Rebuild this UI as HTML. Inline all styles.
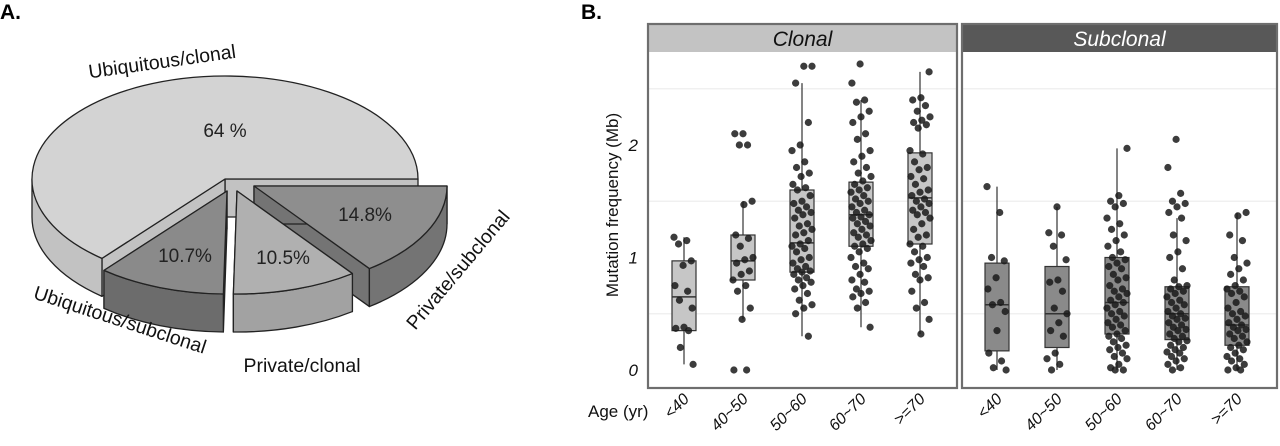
<!DOCTYPE html>
<html><head><meta charset="utf-8">
<style>
body{margin:0;background:#fff;width:1280px;height:441px;overflow:hidden;font-family:"Liberation Sans",sans-serif}
svg text{font-family:"Liberation Sans",sans-serif}
</style></head>
<body>
<svg id="fig" width="1280" height="441" viewBox="0 0 1280 441" xmlns="http://www.w3.org/2000/svg">
  <text x="0" y="19" font-size="21" font-weight="bold">A.</text>
  <text x="581" y="19" font-size="21" font-weight="bold">B.</text>
  <g id="pie"></g>
  <g id="box"></g>
</svg>
<script>
// ---------- Pie data ----------
const pieLabels = ["Ubiquitous/clonal","Ubiquitous/subclonal","Private/clonal","Private/subclonal"];
const pieValues = [64, 10.7, 10.5, 14.8];
const piePctText = ["64 %","10.7%","10.5%","14.8%"];

// ---------- Box plot data ----------
const ageGroups = ["<40","40~50","50~60","60~70",">=70"];
const yTicks = [0,1,2];
const clonalStats = [ // [lowWhisker,q1,median,q3,highWhisker]
 [0.05,0.35,0.65,0.97,1.18],[0.45,0.80,0.97,1.20,1.50],[0.30,0.87,1.13,1.60,2.55],[0.38,1.10,1.38,1.67,2.40],[0.32,1.12,1.53,1.93,2.65]];
const subclonalStats = [
 [0.0,0.17,0.58,0.95,1.63],[0.0,0.20,0.50,0.92,1.45],[0.0,0.32,0.60,1.00,1.97],[0.0,0.27,0.50,0.74,1.35],[0.0,0.22,0.40,0.74,1.40]];
const clonalPoints = [
 [1.18,1.15,1.12,0.97,0.93,0.75,0.70,0.62,0.55,0.38,0.37,0.35,0.20,0.05],
 [2.10,2.10,2.00,2.00,1.50,1.47,1.20,1.17,1.10,1.00,0.98,0.95,0.88,0.85,0.80,0.75,0.70,0.55,0.45,0.00,0.00],
 [2.70,2.70,2.55,2.20,2.00,1.95,1.85,1.80,1.75,1.72,1.65,1.62,1.60,1.55,1.50,1.48,1.45,1.42,1.40,1.38,1.35,1.30,1.28,1.25,1.22,1.20,1.15,1.12,1.10,1.08,1.05,1.00,0.98,0.95,0.92,0.90,0.88,0.87,0.85,0.82,0.80,0.78,0.75,0.72,0.68,0.62,0.58,0.55,0.50,0.30],
 [2.72,2.55,2.40,2.38,2.30,2.25,2.20,2.10,2.05,1.95,1.90,1.85,1.80,1.75,1.72,1.68,1.65,1.62,1.60,1.58,1.55,1.52,1.50,1.48,1.45,1.42,1.40,1.38,1.36,1.35,1.32,1.30,1.28,1.25,1.22,1.20,1.18,1.15,1.12,1.10,1.08,1.05,1.00,0.95,0.92,0.90,0.85,0.80,0.78,0.72,0.70,0.68,0.65,0.60,0.55,0.38],
 [2.65,2.42,2.40,2.35,2.30,2.25,2.22,2.20,2.18,2.15,1.95,1.92,1.85,1.80,1.78,1.72,1.70,1.65,1.60,1.58,1.55,1.52,1.50,1.48,1.45,1.42,1.40,1.38,1.35,1.30,1.25,1.20,1.18,1.12,1.10,1.05,1.00,0.98,0.95,0.92,0.85,0.82,0.80,0.70,0.60,0.55,0.45,0.32]
];
const subclonalPoints = [
 [1.63,1.40,1.00,0.97,0.82,0.72,0.60,0.58,0.52,0.35,0.15,0.08,0.02,0.00],
 [1.45,1.22,1.20,1.10,0.98,0.80,0.78,0.70,0.55,0.50,0.42,0.35,0.30,0.15,0.10,0.05,0.00],
 [1.97,1.55,1.50,1.48,1.45,1.35,1.30,1.25,1.20,1.15,1.10,1.05,1.00,0.98,0.95,0.92,0.90,0.85,0.82,0.80,0.75,0.72,0.70,0.68,0.65,0.62,0.60,0.58,0.55,0.52,0.50,0.48,0.45,0.42,0.40,0.38,0.35,0.32,0.30,0.28,0.25,0.22,0.20,0.18,0.15,0.12,0.10,0.05,0.02,0.00,0.00],
 [2.05,1.80,1.57,1.50,1.48,1.45,1.40,1.35,1.20,1.15,1.05,1.00,0.90,0.80,0.75,0.74,0.72,0.70,0.68,0.65,0.62,0.60,0.58,0.55,0.52,0.50,0.48,0.46,0.45,0.42,0.40,0.38,0.36,0.35,0.32,0.30,0.28,0.26,0.25,0.22,0.20,0.18,0.16,0.15,0.12,0.10,0.08,0.05,0.02,0.00],
 [1.40,1.37,1.20,1.15,1.00,0.95,0.90,0.85,0.80,0.75,0.72,0.70,0.68,0.65,0.60,0.55,0.52,0.50,0.48,0.45,0.42,0.40,0.38,0.36,0.35,0.32,0.30,0.28,0.25,0.22,0.20,0.18,0.15,0.12,0.10,0.08,0.05,0.02,0.00,0.00]
];

const NS="http://www.w3.org/2000/svg";
function mk(parent,tag,attrs){const e=document.createElementNS(NS,tag);for(const k in attrs)e.setAttribute(k,attrs[k]);parent.appendChild(e);return e;}

// ---------- Pie ----------
(function(){
 const g=document.getElementById('pie');
 const cx=225,cy=179,rx=193,ry=103,depth=38;
 const tops=["#d3d3d3","#8a8a8a","#b0b0b0","#8e8e8e"];
 const sides=["#c2c2c2","#6c6c6c","#a2a2a2","#747474"];
 const explode=[[0,0],[2,12],[12,12],[29,7]];
 const total=pieValues.reduce((a,b)=>a+b,0);
 const P=(a,ox,oy,d)=>[cx+ox+rx*Math.cos(a*Math.PI/180),cy+oy-ry*Math.sin(a*Math.PI/180)+d];
 const labelPos=[[225,137],[185,262],[283,264],[365,221]];
 const angles=[];let a0=0;
 pieValues.forEach(v=>{angles.push([a0,a0+v/total*360]);a0+=v/total*360;});
 const order=[0,3,1,2];
 order.forEach(i=>{
  const [a1,a2]=angles[i];
  const [ox,oy]=explode[i];
  const sg=mk(g,'g',{});
  
  
  const st={stroke:'#222','stroke-width':1.3,'stroke-linejoin':'round'};
  const C=[cx+ox,cy+oy];
  [a1,a2].forEach(a=>{const p=P(a,ox,oy,0),q=P(a,ox,oy,depth);
   mk(sg,'path',Object.assign({d:`M${C[0]},${C[1]} L${p[0]},${p[1]} L${q[0]},${q[1]} L${C[0]},${C[1]+depth} Z`,fill:sides[i]},st));});
  const b1=Math.max(a1,180), b2=Math.min(a2,360);
  if(b2>b1){const p1=P(b1,ox,oy,0),p2=P(b2,ox,oy,0),q2=P(b2,ox,oy,depth),q1=P(b1,ox,oy,depth);
   mk(sg,'path',Object.assign({d:`M${p1[0]},${p1[1]} A${rx},${ry} 0 0 0 ${p2[0]},${p2[1]} L${q2[0]},${q2[1]} A${rx},${ry} 0 0 1 ${q1[0]},${q1[1]} Z`,fill:sides[i]},st));}
  const t1=P(a1,ox,oy,0),t2=P(a2,ox,oy,0);const large=(a2-a1)>180?1:0;
  mk(sg,'path',Object.assign({d:`M${C[0]},${C[1]} L${t1[0]},${t1[1]} A${rx},${ry} 0 ${large} 0 ${t2[0]},${t2[1]} Z`,fill:tops[i]},st));
  const t=mk(sg,'text',{x:labelPos[i][0],y:labelPos[i][1],'font-size':19,fill:'#222','text-anchor':'middle'});
  t.textContent=piePctText[i];
 });
 const lab=[[163,68,-8,pieLabels[0]],[118,326,18,pieLabels[1]],[302,372,0,pieLabels[2]],[463,274,-50,pieLabels[3]]];
 lab.forEach((l,i)=>{const t=mk(g,'text',{x:l[0],y:l[1],'font-size':19.5,fill:'#111','text-anchor':'middle',transform:`rotate(${l[2]} ${l[0]} ${l[1]})`});
  
  
  t.textContent=l[3];});
})();

// ---------- Box plots ----------
(function(){
 const g=document.getElementById('box');
 const y=v=>370-v*112.5;
 const panels=[{x0:648,x1:957,name:'Clonal',strip:'#c3c3c3',txt:'#111',fill:'#c6c6c6',stats:clonalStats,pts:clonalPoints,xs:684,step:59},
               {x0:962,x1:1277,name:'Subclonal',strip:'#585858',txt:'#fff',fill:'#8a8a8a',stats:subclonalStats,pts:subclonalPoints,xs:997,step:60}];
 panels.forEach((p,pi)=>{
  const pg=mk(g,'g',{});
  
  
  [0.5,1.5,2.5].forEach(v=>mk(pg,'line',{x1:p.x0,x2:p.x1,y1:y(v),y2:y(v),stroke:'#eeeeee','stroke-width':1.2}));
  const sr=mk(pg,'rect',{x:p.x0,y:24,width:p.x1-p.x0,height:28,fill:p.strip});
  
  
  const st=mk(pg,'text',{x:(p.x0+p.x1)/2,y:46,'font-size':21,'font-style':'italic','text-anchor':'middle',fill:p.txt});
  st.textContent=p.name;
  const xc=i=>p.xs+i*p.step;
  p.stats.forEach((s,i)=>{
   const bx=xc(i),w=24;
   const bg=mk(pg,'g',{});
   
   
   mk(bg,'line',{x1:bx,x2:bx,y1:y(s[0]),y2:y(s[4]),stroke:'#333','stroke-width':1.2});
   mk(bg,'rect',{x:bx-w/2,y:y(s[3]),width:w,height:y(s[1])-y(s[3]),fill:p.fill,stroke:'#333','stroke-width':1.2});
   mk(bg,'line',{x1:bx-w/2,x2:bx+w/2,y1:y(s[2]),y2:y(s[2]),stroke:'#333','stroke-width':1.6});
   p.pts[i].forEach((v,k)=>{
    const jx=(((k*37+i*11)%23)-11)/11*10;
    const c=mk(bg,'circle',{cx:bx+jx,cy:y(v),r:3.6,fill:'#1a1a1a','fill-opacity':0.85});
    
    
   });
   const t=mk(pg,'text',{x:bx+6,y:400,'font-size':16,'font-style':'italic','text-anchor':'end',fill:'#111',transform:`rotate(-45 ${bx+6} 400)`});
   t.textContent=ageGroups[i];
  });
  mk(pg,'rect',{x:p.x0,y:24,width:p.x1-p.x0,height:388-24,fill:'none',stroke:'#6e6e6e','stroke-width':2.2});
 });
 yTicks.forEach(v=>{const t=mk(g,'text',{x:638,y:y(v)+6,'font-size':17,'font-style':'italic','text-anchor':'end',fill:'#111'});
  
  
  t.textContent=v;});
 const yt=mk(g,'text',{x:618,y:205,'font-size':17,'text-anchor':'middle',fill:'#111',transform:'rotate(-90 618 205)'});
 
 
 yt.textContent='Mutation frequency (Mb)';
 const xt=mk(g,'text',{x:588,y:417,'font-size':17,fill:'#111'});
 
 
 xt.textContent='Age (yr)';
})();
</script>
</body></html>
